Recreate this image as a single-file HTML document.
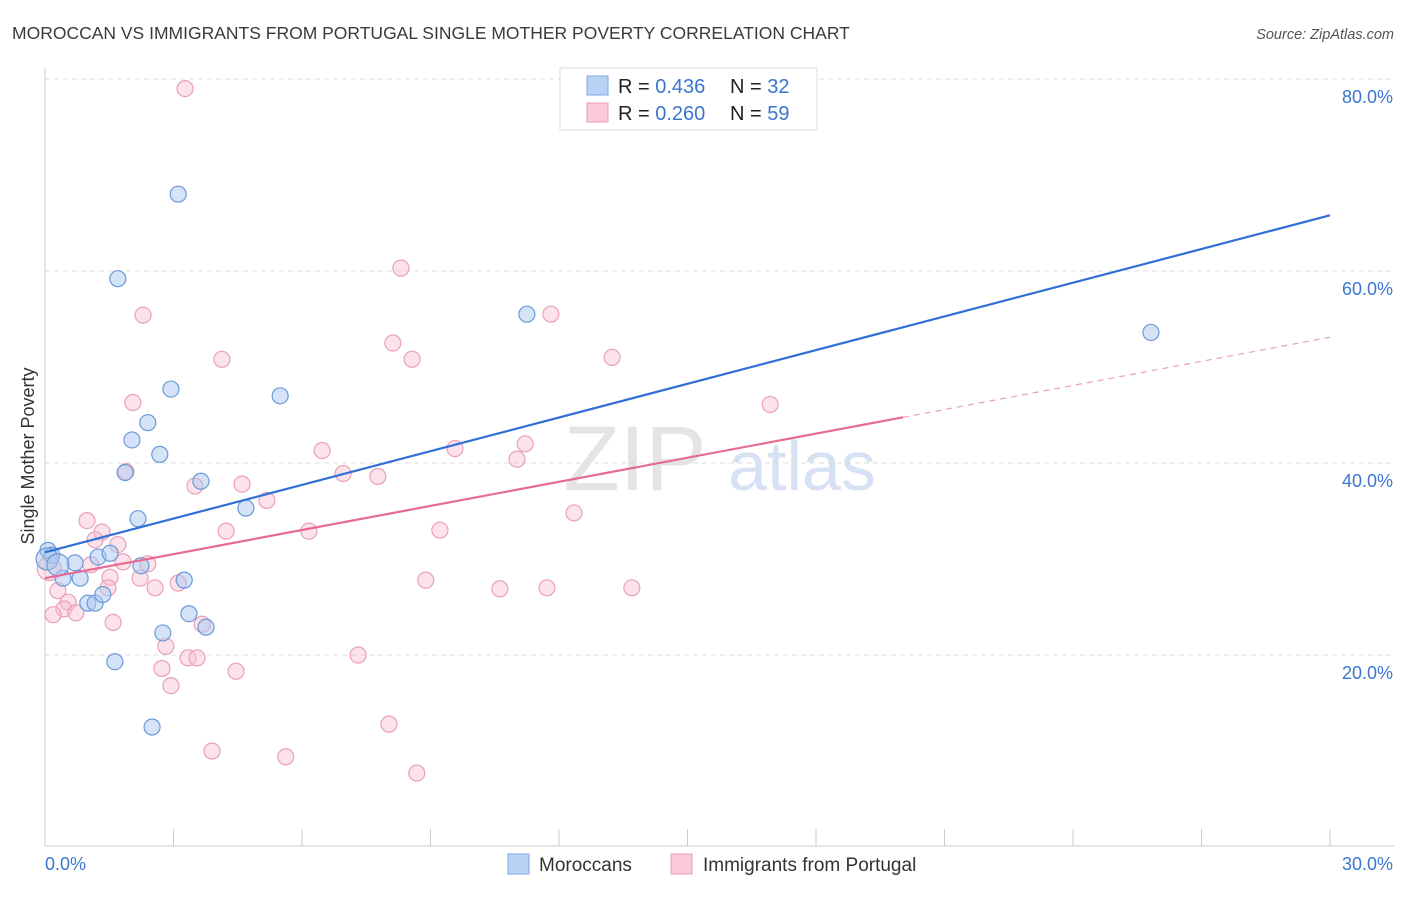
<!DOCTYPE html>
<html><head><meta charset="utf-8"><style>
body{margin:0;background:#fff;font-family:"Liberation Sans",sans-serif;}
svg text{font-family:"Liberation Sans",sans-serif;}
</style></head><body>
<svg id="c" width="1406" height="892" xmlns="http://www.w3.org/2000/svg">
<text x="12" y="39" font-size="17.5" fill="#3a3a3a">MOROCCAN VS IMMIGRANTS FROM PORTUGAL SINGLE MOTHER POVERTY CORRELATION CHART</text>
<text x="1394" y="39" font-size="14.5" font-style="italic" fill="#555" text-anchor="end">Source: ZipAtlas.com</text>
<text x="635" y="490" font-size="92" fill="#e4e4e4" font-family="Liberation Serif" text-anchor="middle">ZIP</text>
<text x="802" y="490" font-size="70" fill="#d6e2f4" text-anchor="middle">atlas</text>
<g id="grid"></g>
<g id="axes"></g>
<g id="marks"></g>
<text transform="translate(34,456) rotate(-90)" font-size="18" fill="#333" text-anchor="middle">Single Mother Poverty</text>
<g>
<rect x="560" y="68" width="257" height="62" fill="#fff" stroke="#ddd"/>
<rect x="587" y="76" width="21" height="19" fill="#b8d3f5" stroke="#7fa9e6"/>
<rect x="587" y="103" width="21" height="19" fill="#fbcad8" stroke="#ec9ab3"/>
<text x="618" y="93" font-size="20" fill="#222">R = <tspan fill="#3a76d0">0.436</tspan><tspan x="730">N = </tspan><tspan fill="#3a76d0">32</tspan></text>
<text x="618" y="120" font-size="20" fill="#222">R = <tspan fill="#3a76d0">0.260</tspan><tspan x="730">N = </tspan><tspan fill="#3a76d0">59</tspan></text>
</g>
<g>
<rect x="508" y="854" width="21" height="20" fill="#b8d3f5" stroke="#7fa9e6"/>
<text x="539" y="871" font-size="19" fill="#333">Moroccans</text>
<rect x="671" y="854" width="21" height="20" fill="#fbcad8" stroke="#ec9ab3"/>
<text x="703" y="871" font-size="19" fill="#333">Immigrants from Portugal</text>
</g>
</svg>
<script>
const xTicks=[0,3,6,9,12,15,18,21,24,27,30];
const yTicks=[20,40,60,80];
const yTickLabels=["20.0%","40.0%","60.0%","80.0%"];
const xEndLabels=["0.0%","30.0%"];
const blueX=[0.07,0.16,0.42,0.70,1.00,1.17,1.24,1.35,1.52,1.63,1.70,1.87,2.03,2.17,2.24,2.40,2.50,2.68,2.75,2.94,3.11,3.25,3.36,3.64,3.76,4.69,5.49,11.25,25.82,0.82,0.05,0.3];
const blueY=[30.9,30.4,28.0,29.6,25.4,25.4,30.2,26.3,30.6,19.3,59.2,39.0,42.4,34.2,29.3,44.2,12.5,40.9,22.3,47.7,68.0,27.8,24.3,38.1,22.9,35.3,47.0,55.5,53.6,28.0,30.0,29.4];
const pinkX=[3.27,8.31,2.29,11.81,8.12,4.13,8.57,13.24,2.05,16.93,9.57,11.21,6.47,11.02,1.89,6.96,7.77,3.50,4.60,5.18,0.98,1.33,4.23,6.16,9.22,12.35,1.17,1.70,2.40,1.82,1.07,2.22,1.52,3.11,2.57,8.89,10.62,11.72,13.70,1.47,0.30,0.54,0.44,0.72,0.19,1.59,3.67,2.82,2.73,3.34,3.55,4.46,7.31,2.94,3.90,5.62,8.03,8.68,0.1];
const pinkY=[79.0,60.3,55.4,55.5,52.5,50.8,50.8,51.0,46.3,46.1,41.5,42.0,41.3,40.4,39.1,38.9,38.6,37.6,37.8,36.1,34.0,32.8,32.9,32.9,33.0,34.8,32.0,31.5,29.5,29.7,29.4,28.0,28.1,27.5,27.0,27.8,26.9,27.0,27.0,27.0,26.7,25.5,24.8,24.4,24.2,23.4,23.2,20.9,18.6,19.7,19.7,18.3,20.0,16.8,10.0,9.4,12.8,7.7,29.0];
const blueTrend=[30.7,65.8];
const pinkTrend=[28.0,53.1];
const pinkSolidEnd=20.03;
const X=v=>45+v/30*1285, Y=v=>847-v*9.6;
const NS="http://www.w3.org/2000/svg";
function mk(tag,attrs,parent){const e=document.createElementNS(NS,tag);for(const k in attrs)e.setAttribute(k,attrs[k]);document.getElementById(parent).appendChild(e);return e;}
yTicks.forEach((t,i)=>{
 const l=mk('line',{x1:45,x2:1394,y1:Y(t),y2:Y(t),stroke:'#dcdcdc','stroke-dasharray':'5,4'},'grid');
 
 
 const tx=mk('text',{x:1393,y:Y(t)+24,'font-size':18,fill:'#3a76d0','text-anchor':'end'},'axes');
 tx.textContent=yTickLabels[i];
 
 
});
const gl=mk('line',{x1:45,x2:1394,y1:79,y2:79,stroke:'#dcdcdc','stroke-dasharray':'5,4'},'grid');


const ya=mk('line',{x1:45,x2:45,y1:68,y2:846,stroke:'#ccc'},'axes');


const xa=mk('line',{x1:45,x2:1394,y1:846,y2:846,stroke:'#ccc'},'axes');


xTicks.forEach(t=>{const l=mk('line',{x1:X(t),x2:X(t),y1:829,y2:846,stroke:'#ccc'},'axes');
 
 });
const xl0=mk('text',{x:45,y:870,'font-size':18,fill:'#3a76d0'},'axes');xl0.textContent=xEndLabels[0];


const xl1=mk('text',{x:1393,y:870,'font-size':18,fill:'#3a76d0','text-anchor':'end'},'axes');xl1.textContent=xEndLabels[1];


pinkX.forEach((x,i)=>{const c=mk('circle',{cx:X(x),cy:Y(pinkY[i]),r:i==pinkX.length-1?12:8,fill:'rgba(248,190,208,0.45)',stroke:'#eaa0b8','stroke-width':1.2},'marks');
 
 });
blueX.forEach((x,i)=>{const c=mk('circle',{cx:X(x),cy:Y(blueY[i]),r:i>=blueX.length-2?11:8,fill:'rgba(170,200,240,0.5)',stroke:'#6b9ad8','stroke-width':1.2},'marks');
 
 });
const pm=(pinkTrend[1]-pinkTrend[0])/30;
const ps=mk('line',{x1:X(0),y1:Y(pinkTrend[0]),x2:X(pinkSolidEnd),y2:Y(pinkTrend[0]+pm*pinkSolidEnd),stroke:'#e66a93','stroke-width':2.2},'marks');


const pd=mk('line',{x1:X(pinkSolidEnd),y1:Y(pinkTrend[0]+pm*pinkSolidEnd),x2:X(30),y2:Y(pinkTrend[1]),stroke:'#eaa0b8','stroke-width':1.2,'stroke-dasharray':'6,5'},'marks');


const bt=mk('line',{x1:X(0),y1:Y(blueTrend[0]),x2:X(30),y2:Y(blueTrend[1]),stroke:'#2f6fd6','stroke-width':2.2},'marks');


</script>
</body></html>
